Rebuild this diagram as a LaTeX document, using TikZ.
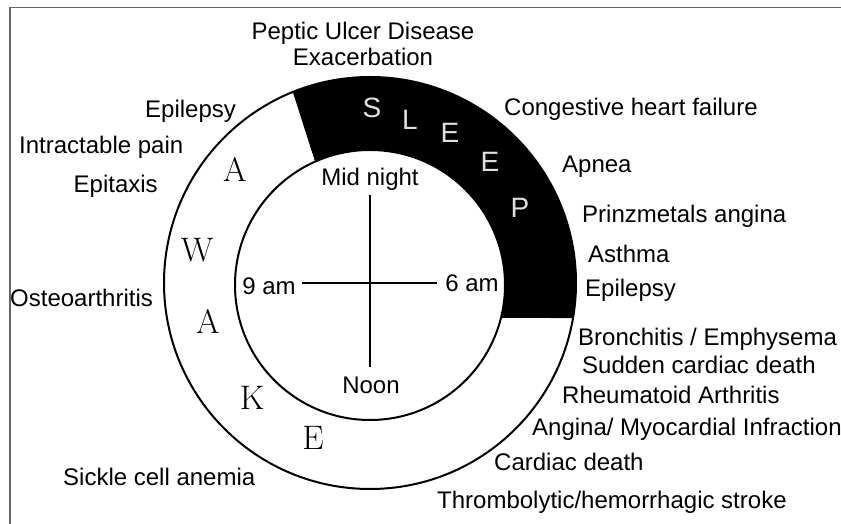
\documentclass[tikz,border=0pt]{standalone}
\usepackage{fontspec}
\setmainfont{Liberation Sans}
\newfontfamily\wakefont{Latin Modern Roman}
\begin{document}
\begin{tikzpicture}[x=1pt,y=1pt,
  lbl/.style={font=\fontsize{24}{28}\selectfont, inner sep=0pt, text height=17.2pt, text depth=0pt},
  sleepl/.style={font=\fontsize{28}{32}\selectfont, text=black!12, inner sep=0pt, text height=20pt, text depth=0pt},
  wakel/.style={font=\wakefont\fontsize{34}{38}\selectfont, inner sep=0pt, text height=23.2pt, text depth=0pt},
  ring/.style={line width=2pt, draw=black}]
\useasboundingbox[fill=white] (0,0) rectangle (841,524);
% frame
\draw[line width=1.5pt, draw=black!60] (10,0) -- (10,516.5) -- (841,516.5);
% centres
\coordinate (oc) at (370,241);
\coordinate (ic) at (370,239);
% sleep band
\fill[black] ([shift={(112:206)}]oc) arc[start angle=112, end angle=-9.8, radius=206]
  -- ([shift={(-14.1:135)}]ic) arc[start angle=-14.1, end angle=114, radius=135] -- cycle;
\draw[ring] (oc) circle[radius=206];
\draw[ring] (ic) circle[radius=135];
% cross
\coordinate (vt) at (370,329);
\coordinate (vb) at (370,157);
\coordinate (hl) at (302,241);
\coordinate (hr) at (437,241);
\draw[line width=1.5pt] (vt) -- (vb);
\draw[line width=1.5pt] (hl) -- (hr);
% clock labels
\node[lbl] (mid) at (370,347) {Mid night};
\node[lbl] (nine) at (269,238) {9 am};
\node[lbl] (six) at (472,241) {6 am};
\node[lbl] (noon) at (371,139) {Noon};
% SLEEP
\node[sleepl] (s1) at (372,416) {S};
\node[sleepl] (s2) at (410,404) {L};
\node[sleepl] (s3) at (450,391) {E};
\node[sleepl] (s4) at (490,362) {E};
\node[sleepl] (s5) at (520,316) {P};
% WAKE
\node[wakel] (w1) at (235,354) {A};
\node[wakel] (w2) at (197,274) {W};
\node[wakel] (w3) at (208,202) {A};
\node[wakel] (w4) at (252,126) {K};
\node[wakel] (w5) at (313,86) {E};
% top labels
\node[lbl] (pud) at (363,493) {Peptic Ulcer Disease};
\node[lbl] (exa) at (363,467) {Exacerbation};
% left labels
\node[lbl, anchor=west] (epl) at (145,415) {Epilepsy};
\node[lbl, anchor=west] (ip) at (19,379) {Intractable pain};
\node[lbl, anchor=west] (ept) at (73.5,340) {Epitaxis};
\node[lbl, anchor=west] (ost) at (10,226) {Osteoarthritis};
\node[lbl, anchor=west] (sca) at (63,47) {Sickle cell anemia};
% right labels
\node[lbl, anchor=west] (chf) at (504,417) {Congestive heart failure};
\node[lbl, anchor=west] (apn) at (562,360) {Apnea};
\node[lbl, anchor=west] (pri) at (582,310) {Prinzmetals angina};
\node[lbl, anchor=west] (ast) at (588,270) {Asthma};
\node[lbl, anchor=west] (epr) at (585,236) {Epilepsy};
\node[lbl, anchor=west] (bro) at (578,187) {Bronchitis / Emphysema};
\node[lbl, anchor=west] (scd) at (582,159) {Sudden cardiac death};
\node[lbl, anchor=west] (rhe) at (562,129) {Rheumatoid Arthritis};
\node[lbl, anchor=west] (ang) at (532,97) {Angina/ Myocardial Infraction};
\node[lbl, anchor=west] (cd) at (494,62) {Cardiac death};
\node[lbl, anchor=west] (thr) at (437,24) {Thrombolytic/hemorrhagic stroke};
\end{tikzpicture}
\end{document}
